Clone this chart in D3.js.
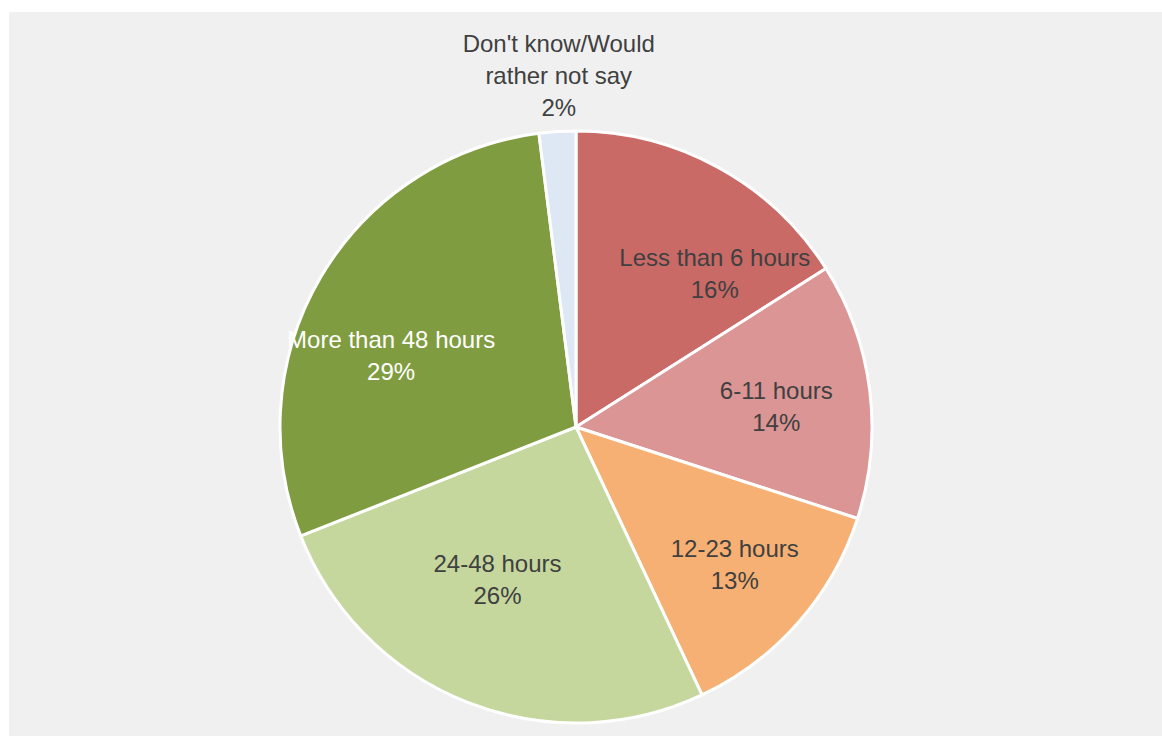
<!DOCTYPE html>
<html>
<head>
<meta charset="utf-8">
<script src="https://cdn.jsdelivr.net/npm/d3@7"></script>
<style>
  html, body { margin: 0; padding: 0; background: #ffffff; }
  svg { display: block; }
  text { font-family: "Liberation Sans", Arial, sans-serif; }
</style>
</head>
<body>
<svg id="chart" width="1162" height="736"></svg>
<script>
// ---- data ----
const categories = ["Less than 6 hours", "6-11 hours", "12-23 hours", "24-48 hours", "More than 48 hours", "Don't know/Would rather not say"];
const values = [16, 14, 13, 26, 29, 2];
const labelLines = [["Less than 6 hours"], ["6-11 hours"], ["12-23 hours"], ["24-48 hours"], ["More than 48 hours"], ["Don't know/Would", "rather not say"]];
const colors = ["#c96a67", "#da9594", "#f7b073", "#c5d79c", "#7f9d40", "#dde8f4"];
const labelColors = ["#404040", "#404040", "#404040", "#404040", "#ffffff", "#404040"];

// ---- layout (label placement within each slice: fraction of slice angle, fraction of radius) ----
const labelAngleFrac = [0.73, 0.53, 0.49, 0.56, 0.41, 0.61];
const labelRadiusFrac = [0.70, 0.68, 0.71, 0.58, 0.67, 1.19];

const W = 1162, H = 736;
const svg = d3.select("#chart");
svg.append("rect").attr("x", 9).attr("y", 12).attr("width", W - 9).attr("height", H - 12).attr("fill", "#f0f0f0");

const cx = 576, cy = 427, R = 296;
const g = svg.append("g").attr("transform", `translate(${cx},${cy})`);

const pie = d3.pie().sort(null).value(d => d);
const arcs = pie(values);
const arc = d3.arc().innerRadius(0).outerRadius(R);

g.selectAll("path.slice").data(arcs).join("path")
  .attr("class", "slice")
  .attr("d", arc)
  .attr("fill", (d, i) => colors[i])
  .attr("stroke", "#ffffff")
  .attr("stroke-width", 3)
  .attr("stroke-linejoin", "round");

const fmt = d3.format(".0%");
const total = d3.sum(values);
const lineH = 32;

arcs.forEach((d, i) => {
  const a = d.startAngle + (d.endAngle - d.startAngle) * labelAngleFrac[i];
  const r = R * labelRadiusFrac[i];
  const x = Math.sin(a) * r, y = -Math.cos(a) * r;
  const lines = labelLines[i].concat([fmt(d.value / total)]);
  const n = lines.length;
  const t = g.append("text")
    .attr("text-anchor", "middle")
    .attr("fill", labelColors[i])
    .attr("font-size", 24);
  lines.forEach((ln, k) => {
    t.append("tspan")
      .attr("x", x)
      .attr("y", y + (k - (n - 1) / 2) * lineH)
      .attr("dy", "0.35em")
      .text(ln);
  });
});
</script>
</body>
</html>
